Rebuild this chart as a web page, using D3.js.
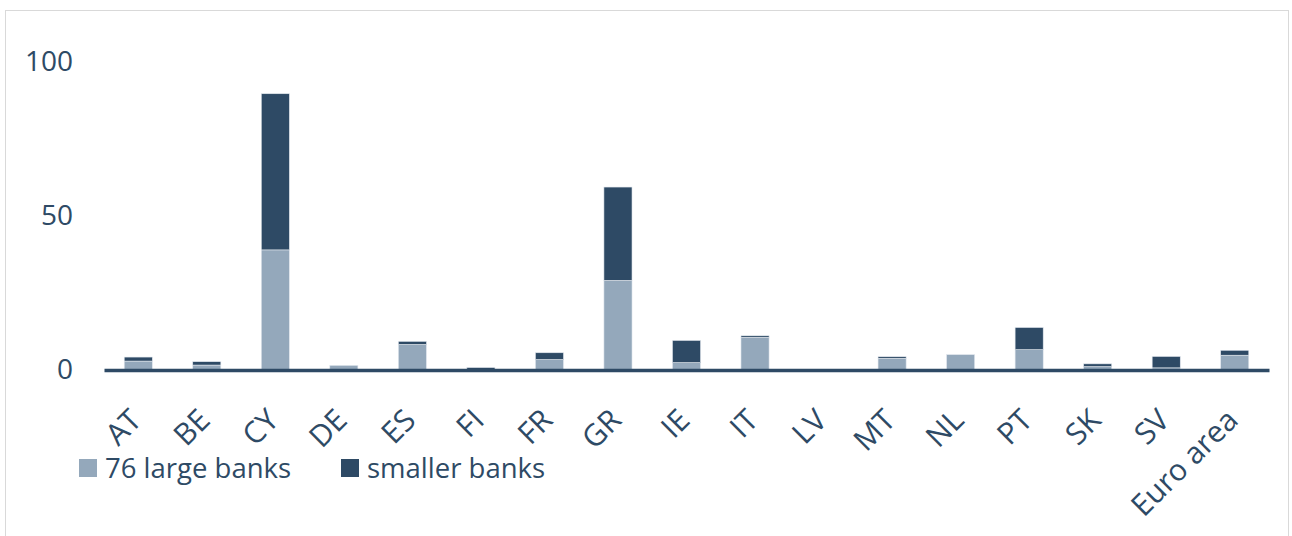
<!DOCTYPE html>
<html>
<head>
<meta charset="utf-8">
<script src="https://cdn.jsdelivr.net/npm/d3@7"></script>
<style>
  body { margin: 0; background: #fff; }
  .chart text { font-family: "Open Sans", sans-serif; fill: #2e4a65; }
</style>
</head>
<body>
<div class="chart"></div>
<script>
// === Data ===
const countries = ["AT", "BE", "CY", "DE", "ES", "FI", "FR", "GR", "IE", "IT", "LV", "MT", "NL", "PT", "SK", "SV", "Euro area"];
const largeBanks = [2.9, 1.6, 39.0, 1.5, 8.3, 0.0, 3.4, 29.1, 2.4, 10.6, 0.0, 3.8, 5.0, 6.6, 1.1, 0.7, 4.8];
const smallerBanks = [1.3, 1.1, 50.7, 0.0, 1.0, 0.8, 2.2, 30.3, 7.2, 0.5, 0.0, 0.5, 0.0, 7.2, 0.9, 3.7, 1.6];
const seriesNames = ["76 large banks", "smaller banks"];
const yTicks = [0, 50, 100];

const colors = ["#94a8bb", "#2e4a65"];

function draw() {
    const W = 1292, H = 536;
    const margin = ({top: 62, right: 23, bottom: 166, left: 104});
    const width = W - margin.left - margin.right,
          height = H - margin.top - margin.bottom;

    const svg = d3.select(".chart").append("svg")
        .attr("width", W)
        .attr("height", H);

    // outer frame
    svg.append("rect")
        .attr("x", 5.5).attr("y", 10.5)
        .attr("width", 1283).attr("height", 540)
        .attr("fill", "none")
        .attr("stroke", "#d9d9d9")
        .attr("stroke-width", 1);

    const g = svg.append("g")
        .attr("transform", `translate(${margin.left},${margin.top})`);

    // === Scales ===
    const xScale = d3.scaleBand()
        .domain(countries)
        .range([0, width])
        .paddingInner(0.59)
        .paddingOuter(0.295);

    const yScale = d3.scaleLinear()
        .domain([0, 100])
        .range([height, 0]);

    // stack the two series
    const table = countries.map((c, i) => ({country: c, large: largeBanks[i], smaller: smallerBanks[i]}));
    const stacked = d3.stack().keys(["large", "smaller"])(table);

    // === Bars ===
    g.selectAll(".series")
        .data(stacked)
        .enter()
        .append("g")
        .attr("class", "series")
        .attr("fill", (d, i) => colors[i])
        .selectAll("rect")
        .data(d => d.filter(p => p[1] - p[0] > 0))
        .enter()
        .append("rect")
        .attr("x", d => xScale(d.data.country))
        .attr("y", d => yScale(d[1]))
        .attr("width", xScale.bandwidth())
        .attr("height", d => yScale(d[0]) - yScale(d[1]))
        .attr("stroke", "#e3e8ee")
        .attr("stroke-width", 0.6);

    // === Axes ===
    const yAxis = d3.axisLeft(yScale)
        .tickValues(yTicks)
        .tickSize(0)
        .tickPadding(31);

    g.append("g")
        .attr("class", "axis y-axis")
        .call(yAxis)
        .call(a => a.select(".domain").remove())
        .selectAll("text")
        .attr("font-size", "28px")
        .attr("font-family", "Open Sans, sans-serif")
        .attr("fill", "#2e4a65");

    const xAxis = d3.axisBottom(xScale).tickSize(0).tickPadding(0);

    const xg = g.append("g")
        .attr("class", "axis x-axis")
        .attr("transform", `translate(0, ${height})`)
        .call(xAxis);

    xg.select(".domain")
        .attr("stroke", "#2e4a65")
        .attr("stroke-width", 3.5);

    xg.selectAll("text")
        .attr("font-size", "30px")
        .attr("font-family", "Open Sans, sans-serif")
        .attr("fill", "#2e4a65")
        .attr("text-anchor", "end")
        .attr("dy", null)
        .attr("y", 0)
        .attr("transform", "translate(5, 52) rotate(-45)");

    // === Legend ===
    const legend = svg.append("g").attr("class", "legend");
    const legendX = [79, 341];
    legend.selectAll("rect")
        .data(seriesNames)
        .enter()
        .append("rect")
        .attr("x", (d, i) => legendX[i])
        .attr("y", 459)
        .attr("width", 18)
        .attr("height", 18)
        .attr("fill", (d, i) => colors[i]);

    legend.selectAll("text")
        .data(seriesNames)
        .enter()
        .append("text")
        .attr("x", (d, i) => legendX[i] + 26)
        .attr("y", 478)
        .attr("font-size", "27.5px")
        .text(d => d);
}

draw();
</script>
</body>
</html>
